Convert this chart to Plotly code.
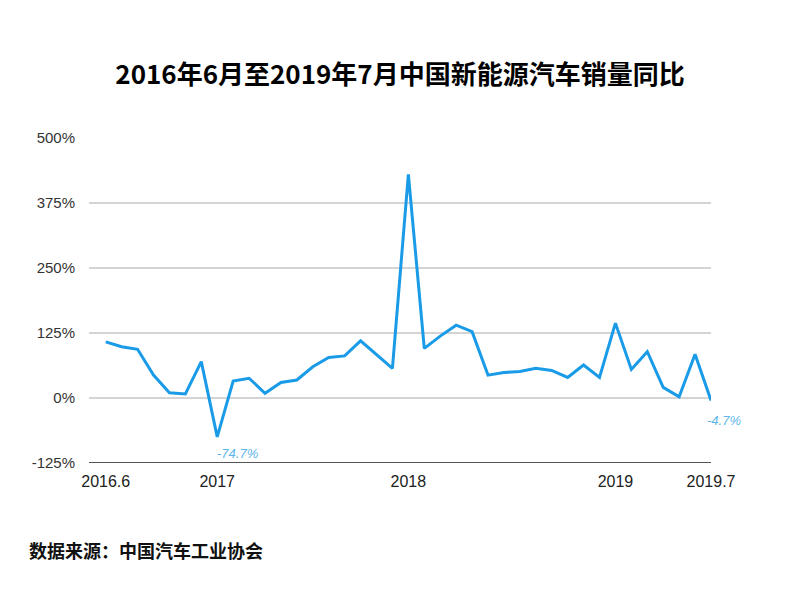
import plotly.graph_objects as go

# Monthly YoY growth of NEV sales (%), 2016.6 -> 2019.7 as drawn in the reference
yoy = [108, 98.7, 93.6, 44, 10, 7.7, 70, -74.7, 32.7, 38, 9, 30, 34.6,
       60, 78, 81, 110, 83, 57, 430, 95.5, 119, 140, 127.5, 44, 49,
       51, 57, 53, 39.5, 63.5, 39.5, 144, 55, 89, 20.5, 2.5, 84, -4.7]
months = list(range(len(yoy)))

x_tick_pos = [0, 7, 19, 32, 38]
x_tick_text = ["2016.6", "2017", "2018", "2019", "2019.7"]
y_tick_vals = [-125, 0, 125, 250, 375, 500]
y_tick_text = ["-125%", "0%", "125%", "250%", "375%", "500%"]

title_text = "2016年6月至2019年7月中国新能源汽车销量同比"
source_text = "数据来源：中国汽车工业协会"

W, H = 800, 600
ml, mr, mt, mb = 89, 89, 138, 137
pw = W - ml - mr
ph = H - mt - mb

line_color = "#1a9be8"
label_color = "#5cb6e8"

fig = go.Figure()
fig.add_trace(go.Scatter(
    x=months, y=yoy, mode="lines",
    line=dict(color=line_color, width=3),
    hoverinfo="skip", showlegend=False,
))

# callouts for min and last point
fig.add_annotation(x=months[7], y=yoy[7], text="-74.7%", showarrow=False,
                   xanchor="left", yanchor="top", xshift=-2, yshift=-7,
                   font=dict(family="Liberation Sans, Arial", size=13, color=label_color, style="italic"))
fig.add_annotation(x=months[-1], y=yoy[-1], text="-4.7%", showarrow=False,
                   xanchor="left", yanchor="top", xshift=-6, yshift=-11,
                   font=dict(family="Liberation Sans, Arial", size=13, color=label_color, style="italic"))

fig.add_annotation(xref="paper", yref="paper",
                   x=(27 - ml) / pw, y=(H - mb - 550) / ph,
                   xanchor="left", yanchor="middle", showarrow=False,
                   text=source_text,
                   font=dict(family="Noto Sans CJK SC", size=18, color="#111", weight="bold"))

fig.update_layout(
    width=W, height=H,
    margin=dict(l=ml, r=mr, t=mt, b=mb),
    paper_bgcolor="white", plot_bgcolor="white",
    title=dict(text=title_text, x=0.5, xanchor="center", y=1 - 75 / H, yanchor="middle",
               font=dict(family="Noto Sans CJK SC", size=26, color="#000", weight="bold")),
    xaxis=dict(range=[-1.05, 38], tickmode="array", tickvals=x_tick_pos, ticktext=x_tick_text,
               showgrid=False, zeroline=False, showline=False, ticks="",
               ticklabelstandoff=7,
               tickfont=dict(family="Liberation Sans, Arial", size=16, color="#222"),
               fixedrange=True),
    yaxis=dict(range=[-125, 500], tickmode="array", tickvals=y_tick_vals, ticktext=y_tick_text,
               showgrid=True, gridcolor="#d4d4d4", gridwidth=1.5, zeroline=False,
               showline=False, ticks="",
               ticklabelstandoff=13,
               tickfont=dict(family="Liberation Sans, Arial", size=15, color="#333"),
               fixedrange=True),
)
# darker baseline at -125
fig.add_shape(type="line", xref="paper", yref="y", x0=0, x1=1, y0=-125, y1=-125,
              line=dict(color="#555", width=2))

fig.write_html("out.html")
